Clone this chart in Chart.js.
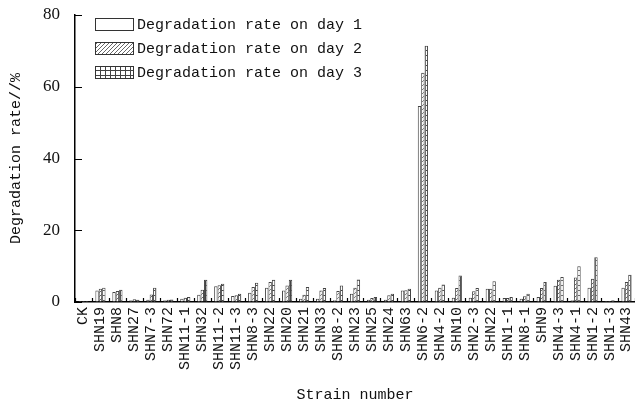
<!DOCTYPE html>
<html>
<head>
<meta charset="utf-8">
<script src="https://cdn.jsdelivr.net/npm/chart.js@4/dist/chart.umd.min.js"></script>
<style>
html,body{margin:0;padding:0;background:#fff;}
canvas{display:block;}
</style>
</head>
<body>
<canvas id="c" width="635" height="412"></canvas>
<script>
const categories = ['CK','SHN19','SHN8','SHN27','SHN7-3','SHN72','SHN11-1','SHN32','SHN11-2','SHN11-3','SHN8-3','SHN22','SHN20','SHN21','SHN33','SHN8-2','SHN23','SHN25','SHN24','SHN63','SHN6-2','SHN4-2','SHN10','SHN2-3','SHN22','SHN1-1','SHN8-1','SHN9','SHN4-3','SHN4-1','SHN1-2','SHN1-3','SHN43'];
const day1 = [0.3,3.2,2.8,0.5,0.6,0.5,0.9,2.0,4.4,1.7,2.6,4.0,3.2,0.9,0.9,0.5,2.3,0.6,0.6,3.2,54.6,3.2,1.2,1.2,3.7,1.1,0.9,1.4,4.5,0.5,4.0,0.3,4.0];
const day2 = [0.3,3.7,3.1,0.8,2.1,0.6,1.2,3.4,4.7,1.9,4.2,5.6,4.6,2.0,3.2,3.1,4.0,1.1,1.9,3.3,63.9,4.0,3.9,3.0,3.7,1.1,1.6,3.9,6.2,6.8,6.5,0.3,5.6];
const day3 = [0.3,4.0,3.4,0.6,4.0,0.7,1.4,6.2,5.1,2.3,5.4,6.2,6.2,4.2,3.9,4.6,6.3,1.4,2.3,3.7,71.4,4.9,7.4,3.9,5.8,1.4,2.3,5.6,7.0,10.0,12.5,0.5,7.6];
const seriesNames = ['Degradation rate on day 1','Degradation rate on day 2','Degradation rate on day 3'];
const yTicks = [0,20,40,60,80];

function hatchPattern(){
  const c=document.createElement('canvas');c.width=4;c.height=4;
  const x=c.getContext('2d');x.fillStyle='#fff';x.fillRect(0,0,4,4);
  x.strokeStyle='#555';x.lineWidth=0.9;
  x.beginPath();x.moveTo(0,4);x.lineTo(4,0);x.moveTo(-1,1);x.lineTo(1,-1);x.moveTo(3,5);x.lineTo(5,3);x.stroke();
  return x.createPattern(c,'repeat');
}
function gridPattern(){
  const c=document.createElement('canvas');c.width=5;c.height=5;
  const x=c.getContext('2d');x.fillStyle='#fff';x.fillRect(0,0,5,5);
  x.fillStyle='#444';x.fillRect(0,0,5,1);x.fillRect(0,0,1,5);
  return x.createPattern(c,'repeat');
}
const fills=['#ffffff',hatchPattern(),gridPattern()];
const MONO='"Liberation Mono", monospace';
const SERIF='"Liberation Serif", serif';

const extras={
  id:'extras',
  afterDatasetsDraw(chart){
    const ctx=chart.ctx, ca=chart.chartArea, xs=chart.scales.x, ys=chart.scales.y;
    ctx.save();
    ctx.strokeStyle='#000';ctx.lineWidth=1.2;
    ctx.beginPath();
    yTicks.forEach(v=>{const y=Math.round(ys.getPixelForValue(v))+0.5;ctx.moveTo(ca.left,y);ctx.lineTo(ca.left+7,y);});
    const step=xs.getPixelForValue(1)-xs.getPixelForValue(0);
    for(let i=0;i<=categories.length;i++){
      let x;
      if(i===0) x=xs.getPixelForValue(0)-step/2;
      else if(i===categories.length) x=xs.getPixelForValue(i-1)+step/2;
      else x=(xs.getPixelForValue(i-1)+xs.getPixelForValue(i))/2;
      x=Math.round(x)+0.5;
      ctx.moveTo(x,ca.bottom);ctx.lineTo(x,ca.bottom-4);
    }
    ctx.stroke();
    // legend
    const rows=[24,48,72];
    chart.data.datasets.forEach((ds,i)=>{
      const y=rows[i];
      ctx.fillStyle=ds.backgroundColor;
      ctx.fillRect(95,y-6,38,12);
      ctx.strokeStyle='#333';ctx.lineWidth=1;
      ctx.strokeRect(95.5,y-5.5,38,12);
      ctx.fillStyle='#111';ctx.font='15px '+MONO;ctx.textBaseline='middle';ctx.textAlign='left';
      ctx.fillText(ds.label,137,y+1);
    });
    ctx.restore();
  }
};

new Chart(document.getElementById('c'),{
  type:'bar',
  data:{
    labels:categories,
    datasets:[day1,day2,day3].map((d,i)=>({
      label:seriesNames[i],data:d,backgroundColor:fills[i],borderColor:'#444',borderWidth:1,
      categoryPercentage:0.6,barPercentage:1.0
    }))
  },
  options:{
    responsive:false,animation:false,
    layout:{padding:{top:15,right:0,left:0,bottom:4}},
    plugins:{legend:{display:false},tooltip:{enabled:false}},
    scales:{
      x:{
        offset:true,
        grid:{display:true,drawOnChartArea:false,drawTicks:false},
        border:{display:true,color:'#000',width:1.5},
        ticks:{autoSkip:false,maxRotation:90,minRotation:90,padding:5,color:'#111',font:{family:MONO,size:15}},
        title:{display:true,text:'Strain number',color:'#111',font:{family:MONO,size:15},padding:{top:4,bottom:4}},
        afterFit(s){s.height=106;s.paddingLeft=0;s.paddingRight=0;}
      },
      y:{
        min:0,max:80,
        afterBuildTicks(s){s.ticks=yTicks.map(v=>({value:v}));},
        grid:{display:true,drawOnChartArea:false,drawTicks:false},
        border:{display:true,color:'#000',width:1.5},
        ticks:{padding:15,color:'#111',font:{family:SERIF,size:17}},
        title:{display:true,text:'Degradation rate//%',color:'#111',font:{family:MONO,size:15},padding:{top:7,bottom:4}},
        afterFit(s){s.width=75;s.paddingTop=0;s.paddingBottom=0;}
      }
    }
  },
  plugins:[extras]
});
</script>
</body>
</html>
